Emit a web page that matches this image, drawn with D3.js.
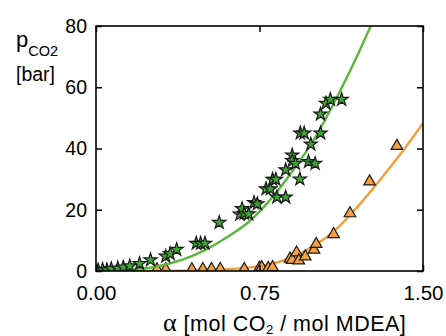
<!DOCTYPE html>
<html>
<head>
<meta charset="utf-8">
<script src="https://cdn.jsdelivr.net/npm/d3@7"></script>
<style>
  body { margin: 0; background: #fff; }
  svg { display: block; font-family: "Liberation Sans", Arial, sans-serif; }
</style>
</head>
<body>
<div id="chart"></div>
<script>
// measured data: green stars (alpha, p) and orange triangles (alpha, p)
const starPts = [
  [0.01, 0.3], [0.03, 0.5], [0.05, 0.4], [0.07, 0.7], [0.10, 0.9], [0.125, 1.2],
  [0.155, 1.6], [0.20, 2.4], [0.25, 3.6], [0.32, 4.8], [0.34, 5.6], [0.37, 7.0],
  [0.46, 9.0], [0.48, 9.0], [0.50, 9.0], [0.565, 15.8], [0.66, 18.5], [0.67, 20.3],
  [0.68, 18.8], [0.70, 18.6], [0.725, 22.3], [0.74, 21.9], [0.78, 26.8], [0.80, 26.8],
  [0.81, 29.9], [0.825, 29.9], [0.83, 24.1], [0.87, 24.1], [0.87, 33.0], [0.90, 37.8],
  [0.90, 36.0], [0.915, 35.1], [0.935, 30.0], [0.975, 35.7], [1.005, 35.1], [0.985, 41.4],
  [0.937, 45.0], [0.955, 45.0], [1.03, 45.0], [1.03, 51.2], [1.055, 54.7], [1.075, 56.0],
  [1.127, 56.0]
];
const triPts = [
  [0.28, 0.5], [0.32, 0.5], [0.44, 0.5], [0.49, 0.6], [0.53, 0.6], [0.57, 0.6],
  [0.68, 0.6], [0.75, 1.0], [0.76, 1.2], [0.79, 0.9], [0.81, 1.2], [0.89, 4.0],
  [0.90, 3.6], [0.92, 6.0], [0.93, 3.4], [0.96, 4.7], [1.00, 6.9], [1.01, 8.8],
  [1.09, 12.0], [1.165, 18.8], [1.255, 29.2], [1.38, 40.8]
];
// model curves
const greenCurve = [
  [0, 0], [0.1, 0.15], [0.2, 0.65], [0.3, 1.8], [0.4, 3.8], [0.5, 6.8], [0.6, 11],
  [0.7, 16], [0.8, 23.3], [0.9, 32.5], [1.0, 43], [1.1, 56], [1.2, 70.5], [1.26, 80]
];
const orangeCurve = [
  [0, 0], [0.2, 0.01], [0.4, 0.12], [0.5, 0.3], [0.6, 0.6], [0.7, 1.1], [0.8, 2.2],
  [0.9, 4.5], [1.0, 8.2], [1.1, 13.5], [1.2, 21], [1.3, 29.5], [1.4, 38.5], [1.5, 48.3]
];
const xTicks = [0, 0.75, 1.5];
const yTicks = [0, 20, 40, 60, 80];

const width = 446, height = 336;
const marginTop = 26, marginRight = 23, marginBottom = 65, marginLeft = 96;

const x = d3.scaleLinear().domain([0, 1.5]).range([marginLeft, width - marginRight]);
const y = d3.scaleLinear().domain([0, 80]).range([height - marginBottom, marginTop]);

const svg = d3.select("#chart").append("svg")
  .attr("width", width)
  .attr("height", height)
  .attr("viewBox", [0, 0, width, height]);

svg.append("defs").append("clipPath").attr("id", "plot")
  .append("rect")
    .attr("x", marginLeft).attr("y", marginTop)
    .attr("width", width - marginLeft - marginRight)
    .attr("height", height - marginTop - marginBottom);

const line = d3.line()
  .x(d => x(d[0]))
  .y(d => y(d[1]))
  .curve(d3.curveMonotoneX);

const plot = svg.append("g").attr("clip-path", "url(#plot)");

// orange series
plot.append("path")
  .datum(orangeCurve)
  .attr("fill", "none")
  .attr("stroke", "#f39c3a")
  .attr("stroke-width", 2.4)
  .attr("d", line);

plot.append("g")
  .selectAll("path")
  .data(triPts)
  .join("path")
    .attr("transform", d => `translate(${x(d[0])},${y(d[1])})`)
    .attr("d", d3.symbol(d3.symbolTriangle, 58))
    .attr("fill", "#f4a03c")
    .attr("stroke", "#1a1a1a")
    .attr("stroke-width", 1.2);

// green series
plot.append("path")
  .datum(greenCurve)
  .attr("fill", "none")
  .attr("stroke", "#5cb83a")
  .attr("stroke-width", 2.4)
  .attr("d", line);

plot.append("g")
  .selectAll("path")
  .data(starPts)
  .join("path")
    .attr("transform", d => `translate(${x(d[0])},${y(d[1])})`)
    .attr("d", d3.symbol(d3.symbolStar, 54))
    .attr("fill", "#3fa535")
    .attr("stroke", "#1a1a1a")
    .attr("stroke-width", 1.2);

// axes, ticks pointing inward
svg.append("g")
  .attr("transform", `translate(${marginLeft},0)`)
  .call(d3.axisLeft(y).tickValues(yTicks).tickSizeInner(-6).tickSizeOuter(0).tickPadding(9))
  .call(g => g.select(".domain").remove())
  .call(g => g.selectAll(".tick line").attr("stroke-width", 1.5))
  .call(g => g.selectAll("text").attr("font-size", 19.5).attr("fill", "#000")
    .attr("font-family", "Liberation Sans, Arial, sans-serif"));

svg.append("g")
  .attr("transform", `translate(0,${height - marginBottom})`)
  .call(d3.axisBottom(x).tickValues(xTicks).tickFormat(d3.format(".2f"))
    .tickSizeInner(-6).tickSizeOuter(0).tickPadding(14))
  .call(g => g.select(".domain").remove())
  .call(g => g.selectAll(".tick line").attr("stroke-width", 1.5))
  .call(g => g.selectAll("text").attr("font-size", 20.5).attr("fill", "#000")
    .attr("font-family", "Liberation Sans, Arial, sans-serif"));

svg.append("g")
  .attr("transform", `translate(${width - marginRight},0)`)
  .call(d3.axisRight(y).tickValues(yTicks).tickSizeInner(-6).tickSizeOuter(0).tickFormat(""))
  .call(g => g.select(".domain").remove())
  .call(g => g.selectAll(".tick line").attr("stroke-width", 1.5));

svg.append("g")
  .attr("transform", `translate(0,${marginTop})`)
  .call(d3.axisTop(x).tickValues(xTicks).tickSizeInner(-6).tickSizeOuter(0).tickFormat(""))
  .call(g => g.select(".domain").remove())
  .call(g => g.selectAll(".tick line").attr("stroke-width", 1.5));

// frame
svg.append("rect")
  .attr("x", marginLeft).attr("y", marginTop)
  .attr("width", width - marginLeft - marginRight)
  .attr("height", height - marginTop - marginBottom)
  .attr("fill", "none")
  .attr("stroke", "#000")
  .attr("stroke-width", 1.6);

// y label
const yl = svg.append("text").attr("x", 16).attr("y", 47).attr("fill", "#000");
yl.append("tspan").attr("font-size", 22).text("p");
yl.append("tspan").attr("font-size", 14.5).attr("dy", 9).text("CO2");
svg.append("text").attr("x", 16).attr("y", 81).attr("font-size", 19.5).attr("fill", "#000").text("[bar]");

// x label
const xl = svg.append("text").attr("x", 163).attr("y", 331).attr("font-size", 21.5)
  .attr("letter-spacing", 0.5).attr("fill", "#000");
xl.append("tspan").attr("font-family", "Liberation Serif, Times New Roman, serif").attr("font-size", 26).text("α");
xl.append("tspan").text(" [mol CO");
xl.append("tspan").attr("font-size", 13).attr("dy", 3).text("2");
xl.append("tspan").attr("dy", -3).text(" / mol MDEA]");
</script>
</body>
</html>
